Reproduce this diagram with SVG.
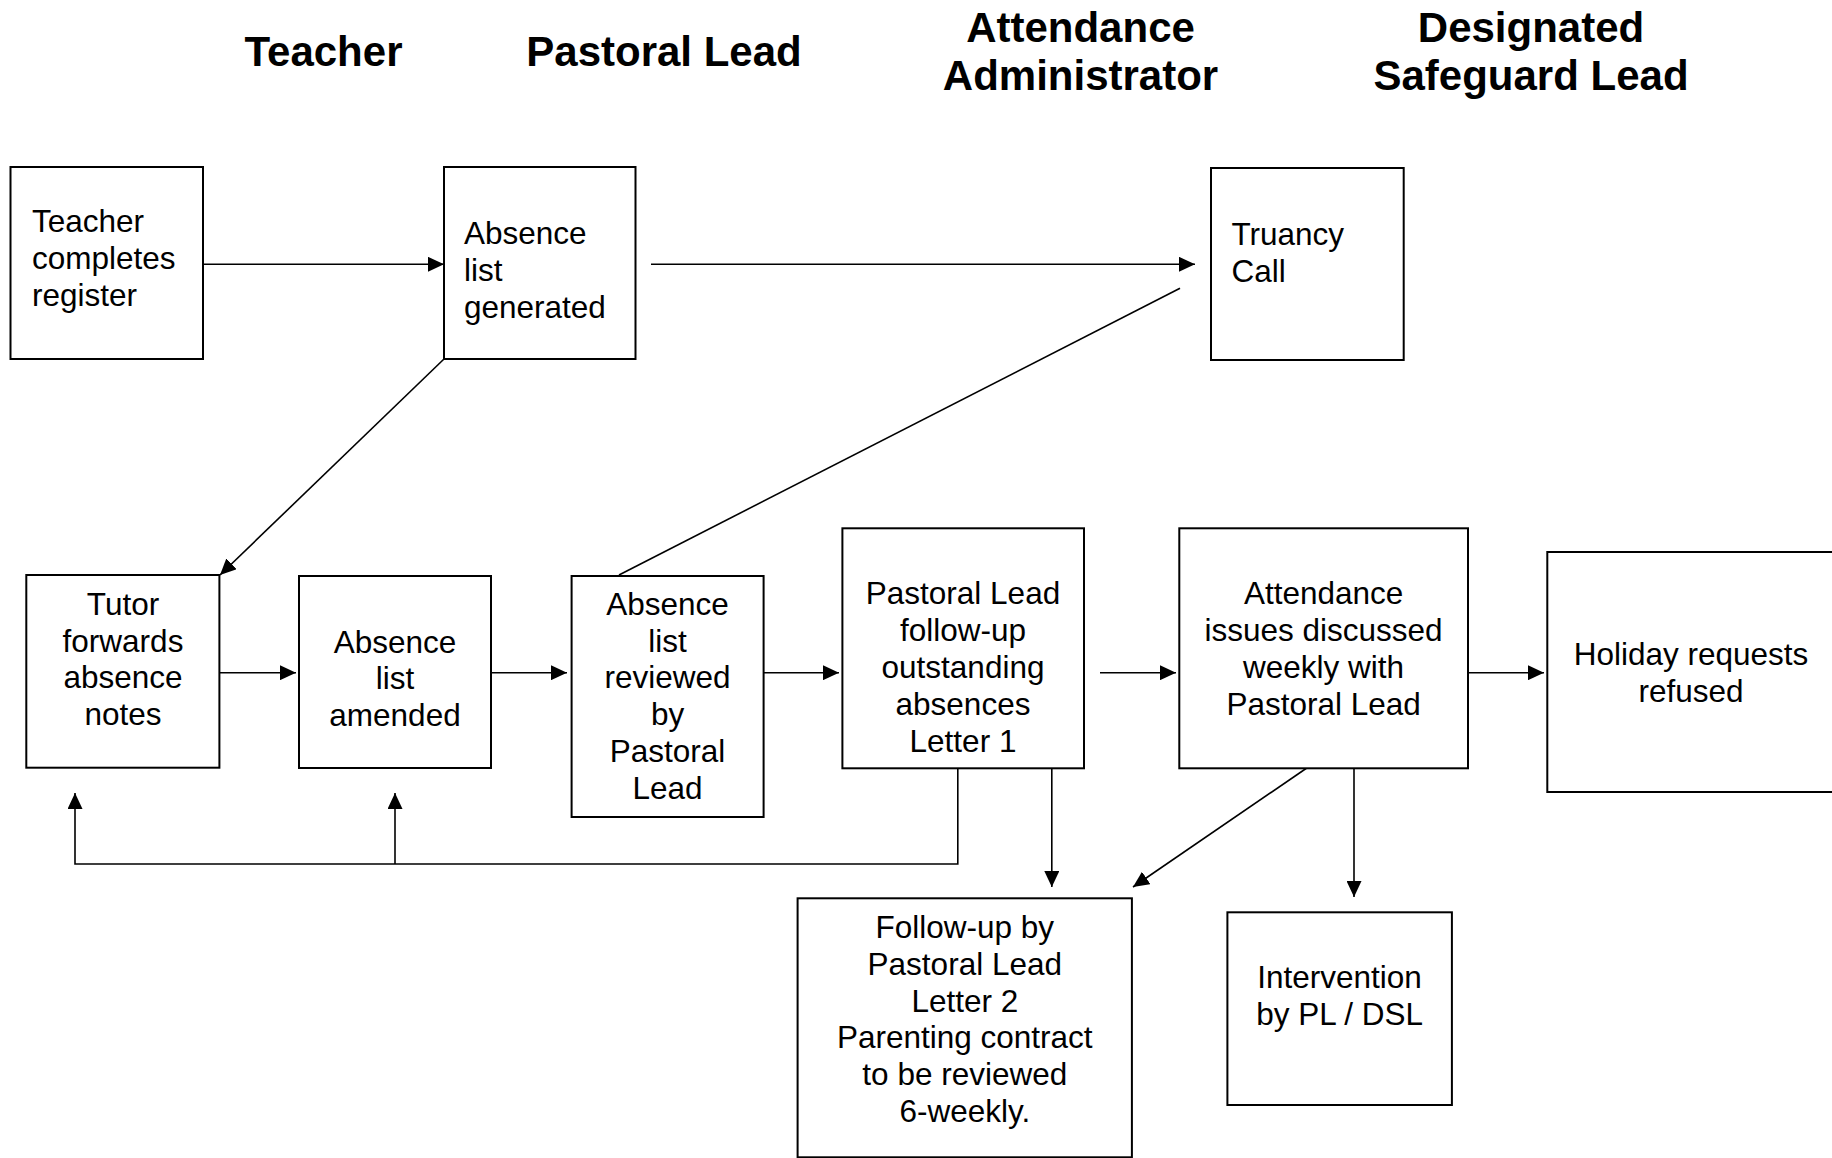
<svg xmlns="http://www.w3.org/2000/svg" width="1832" height="1158" viewBox="0 0 1832 1158">
<style>
.title{font-family:"Liberation Sans",Arial,sans-serif;font-weight:bold;font-size:42px;fill:#000;text-anchor:middle}
.box{fill:#fff;stroke:#000;stroke-width:2}
.t{font-family:"Liberation Sans",Arial,sans-serif;font-size:31.5px;fill:#000}
.c{text-anchor:middle}
.ln{fill:none;stroke:#000;stroke-width:1.6}
.arr{marker-end:url(#ah)}
</style>
<defs>
<marker id="ah" markerUnits="userSpaceOnUse" markerWidth="16" markerHeight="15" refX="16" refY="7.5" orient="auto" viewBox="0 0 16 15">
<path d="M0,0 L16,7.5 L0,15 z" fill="#000"/>
</marker>
</defs>
<rect width="1832" height="1158" fill="#fff"/>
<g id="titles">
<text class="title" x="323.5" y="66">Teacher</text>
<text class="title" x="664" y="66">Pastoral Lead</text>
<text class="title" x="1080.5" y="42">Attendance</text>
<text class="title" x="1080.5" y="90">Administrator</text>
<text class="title" x="1531" y="42">Designated</text>
<text class="title" x="1531" y="90">Safeguard Lead</text>
</g>
<g id="connectors">
<line class="ln arr" x1="203" y1="264.3" x2="444" y2="264.3"/>
<line class="ln arr" x1="651" y1="264.3" x2="1195" y2="264.3"/>
<line class="ln" x1="1180" y1="288.3" x2="619" y2="575"/>
<line class="ln arr" x1="444" y1="359" x2="220" y2="575"/>
<line class="ln arr" x1="219.4" y1="672.7" x2="296" y2="672.7"/>
<line class="ln arr" x1="491" y1="672.7" x2="567" y2="672.7"/>
<line class="ln arr" x1="763.6" y1="672.7" x2="839" y2="672.7"/>
<line class="ln arr" x1="1100" y1="672.7" x2="1176" y2="672.7"/>
<line class="ln arr" x1="1468" y1="672.7" x2="1544" y2="672.7"/>
<polyline class="ln arr" points="957.8,768 957.8,864 75,864 75,793"/>
<line class="ln arr" x1="395" y1="864" x2="395" y2="793"/>
<line class="ln arr" x1="1051.8" y1="768" x2="1051.8" y2="887"/>
<line class="ln arr" x1="1306.8" y1="768" x2="1133" y2="887"/>
<line class="ln arr" x1="1354" y1="768" x2="1354" y2="897"/>
</g>
<g id="teacher-completes">
<rect class="box" x="10.5" y="167" width="192.5" height="192"/>
<text class="t" x="32" y="232">Teacher</text>
<text class="t" x="32" y="269">completes</text>
<text class="t" x="32" y="306">register</text>
</g>
<g id="absence-generated">
<rect class="box" x="444" y="167" width="191.5" height="192"/>
<text class="t" x="464" y="244">Absence</text>
<text class="t" x="464" y="281">list</text>
<text class="t" x="464" y="317.5">generated</text>
</g>
<g id="truancy-call">
<rect class="box" x="1211" y="168" width="192.7" height="192"/>
<text class="t" x="1231.4" y="245">Truancy</text>
<text class="t" x="1231.4" y="282">Call</text>
</g>
<g id="tutor-forwards">
<rect class="box" x="26.3" y="575" width="193.1" height="192.7"/>
<text class="t c" x="123" y="615">Tutor</text>
<text class="t c" x="123" y="651.7">forwards</text>
<text class="t c" x="123" y="688.4">absence</text>
<text class="t c" x="123" y="725">notes</text>
</g>
<g id="absence-amended">
<rect class="box" x="299" y="576" width="192" height="192"/>
<text class="t c" x="395" y="652.5">Absence</text>
<text class="t c" x="395" y="689">list</text>
<text class="t c" x="395" y="726">amended</text>
</g>
<g id="absence-reviewed">
<rect class="box" x="571.6" y="576" width="192" height="241"/>
<text class="t c" x="667.6" y="615">Absence</text>
<text class="t c" x="667.6" y="651.7">list</text>
<text class="t c" x="667.6" y="688.4">reviewed</text>
<text class="t c" x="667.6" y="725">by</text>
<text class="t c" x="667.6" y="762">Pastoral</text>
<text class="t c" x="667.6" y="799">Lead</text>
</g>
<g id="pl-followup">
<rect class="box" x="842.4" y="528.3" width="241.6" height="240"/>
<text class="t c" x="963" y="604.3">Pastoral Lead</text>
<text class="t c" x="963" y="641">follow-up</text>
<text class="t c" x="963" y="678">outstanding</text>
<text class="t c" x="963" y="715">absences</text>
<text class="t c" x="963" y="751.7">Letter 1</text>
</g>
<g id="attendance-issues">
<rect class="box" x="1179.3" y="528.3" width="288.7" height="240"/>
<text class="t c" x="1323.6" y="604.3">Attendance</text>
<text class="t c" x="1323.6" y="641">issues discussed</text>
<text class="t c" x="1323.6" y="678">weekly with</text>
<text class="t c" x="1323.6" y="715">Pastoral Lead</text>
</g>
<g id="holiday-refused">
<rect class="box" x="1547.3" y="552" width="300" height="240"/>
<text class="t c" x="1691" y="665">Holiday requests</text>
<text class="t c" x="1691" y="701.7">refused</text>
</g>
<g id="followup-letter2">
<rect class="box" x="797.6" y="898.3" width="334.3" height="259"/>
<text class="t c" x="964.8" y="938.3">Follow-up by</text>
<text class="t c" x="964.8" y="975">Pastoral Lead</text>
<text class="t c" x="964.8" y="1011.7">Letter 2</text>
<text class="t c" x="964.8" y="1048.3">Parenting contract</text>
<text class="t c" x="964.8" y="1085">to be reviewed</text>
<text class="t c" x="964.8" y="1121.7">6-weekly.</text>
</g>
<g id="intervention">
<rect class="box" x="1227.4" y="912.3" width="224.5" height="192.7"/>
<text class="t c" x="1339.6" y="988.3">Intervention</text>
<text class="t c" x="1339.6" y="1025">by PL / DSL</text>
</g>
</svg>
